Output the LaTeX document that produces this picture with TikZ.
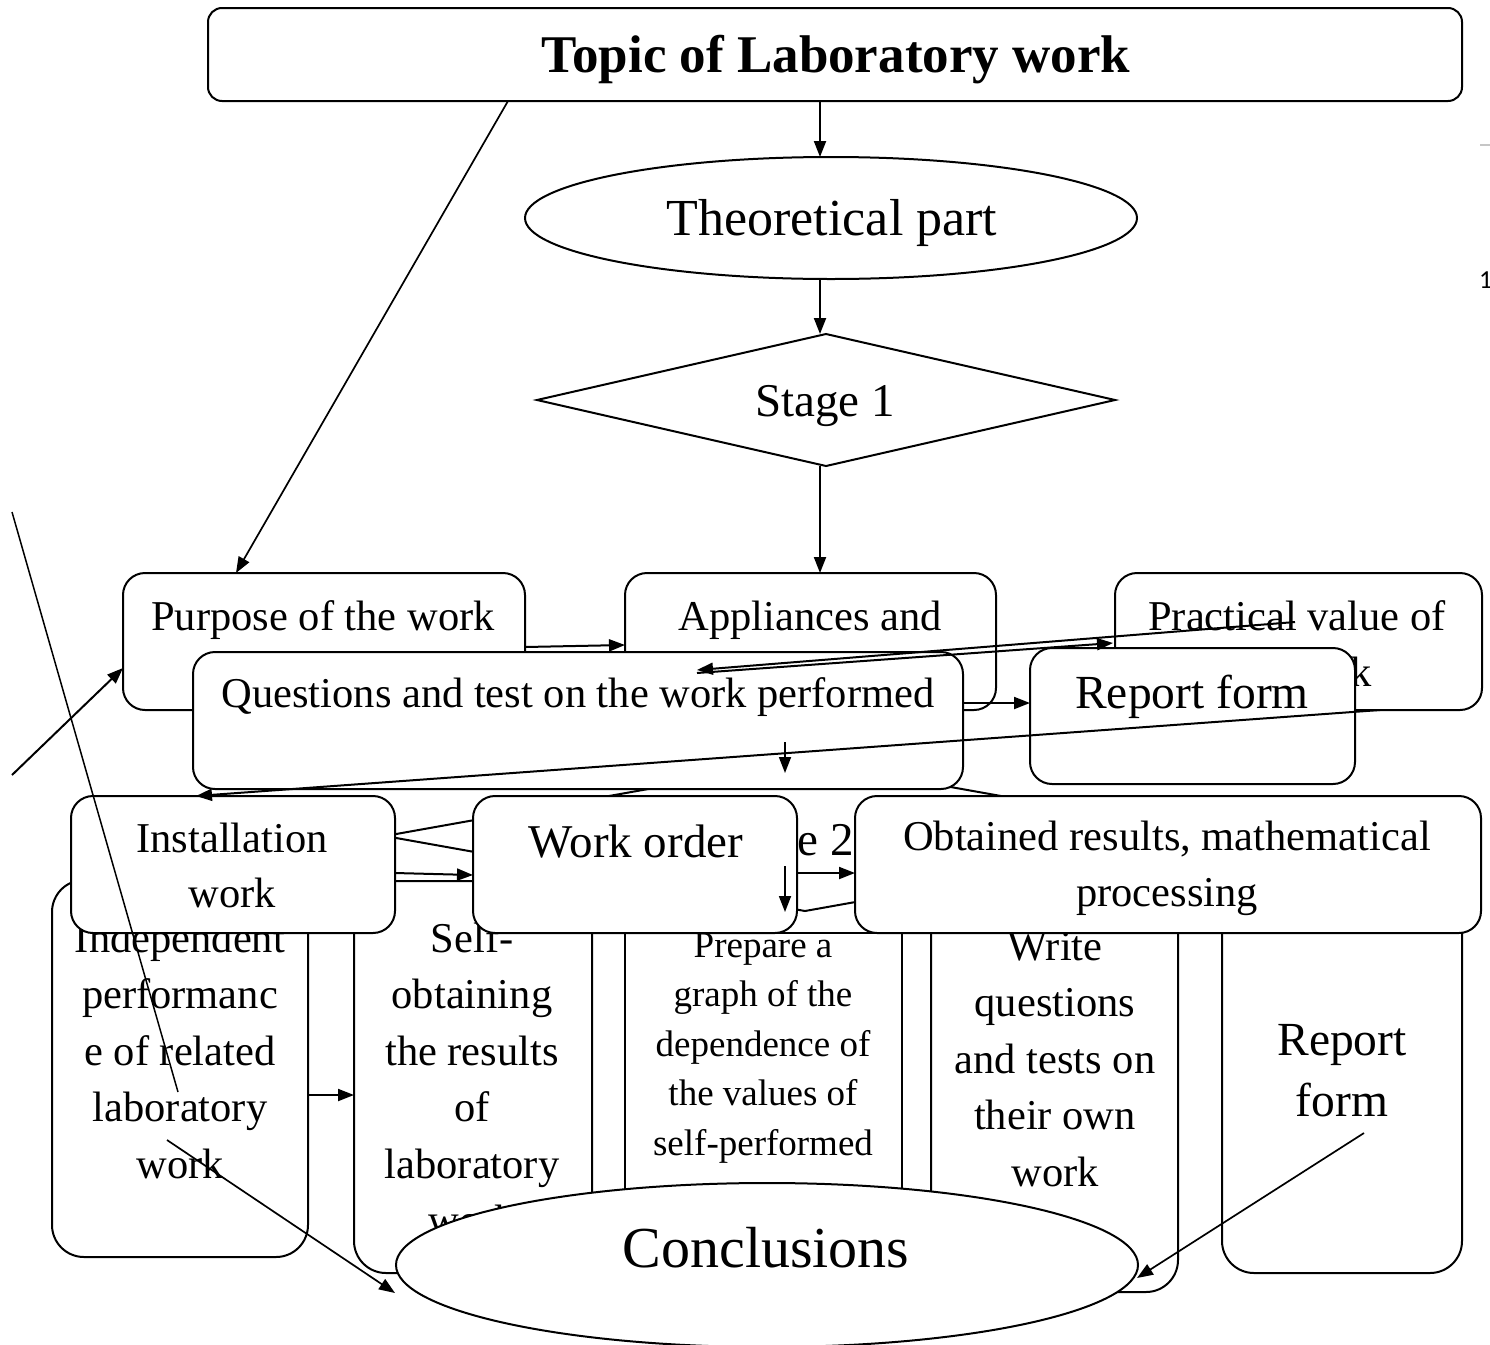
\documentclass[tikz,border=0pt]{standalone}
\usepackage{fontspec}
\setmainfont{Liberation Serif}
\newfontfamily\pgnumfont{Carlito}
\usetikzlibrary{arrows.meta,calc,shapes.geometric}
\begin{document}
\begin{tikzpicture}[x=1pt,y=-1pt,
  box/.style={draw, line width=2pt, rounded corners=22pt, fill=white, inner sep=0pt, outer sep=0pt},
  colbox/.style={box, rounded corners=32pt},
  sqbox/.style={box, sharp corners},
  ell/.style={draw, ellipse, line width=2pt, fill=white, inner sep=0pt, outer sep=0pt},
  dia/.style={draw, diamond, line width=2pt, fill=white, inner sep=0pt, outer sep=0pt},
  tx/.style={inner sep=0pt, anchor=base},
  fn/.style={font=\fontsize{42.5}{56.5}\selectfont},
  fb/.style={font=\fontsize{47.5}{61}\selectfont},
  fs/.style={font=\fontsize{37}{49.5}\selectfont},
  arr/.style={-{Triangle[length=16pt,width=12pt]}, line width=2pt},
  arrthin/.style={-{Triangle[length=16pt,width=12pt]}, line width=1.7pt},
  plain/.style={line width=1.5pt}
]
\useasboundingbox (0,0) rectangle (1490,1344);
\coordinate (ax) at (820,0);
\coordinate (fl1) at (12,775);
\coordinate (fl2a) at (12,512);
\coordinate (fl2b) at (178,1092);

% page artefacts
\draw[gray!45, line width=1.5pt] (1480,145) -- (1490,145);
\node[tx, anchor=base west, font=\pgnumfont\fontsize{26}{30}\selectfont] (pg) at (1479,288) {1};

% top
\node[box, rounded corners=14pt, minimum width=1254pt, minimum height=93pt] (topic) at (835,54.5) {};
\node[tx, font=\bfseries\fontsize{53}{60}\selectfont] (topicT) at (836,72) {Topic of Laboratory work};

\node[ell, minimum width=612pt, minimum height=122pt] (theo) at (831,218) {};
\node[tx, font=\fontsize{52}{60}\selectfont] (theoT) at (832,235) {Theoretical part};

\node[dia, minimum width=578pt, minimum height=132pt] (st1) at (826,400) {};
\node[tx, font=\fontsize{47}{56}\selectfont] (st1T) at (825,416) {Stage 1};

\draw[arr] (topic.south -| ax) -- (theo.north -| ax);
\draw[arr] (theo.south -| ax) -- (st1.north -| ax);

% first row
\node[box, minimum width=402pt, minimum height=137pt] (purpose) at (324,641.5) {};
\node[tx, fn] (purposeT) at (323,630) {Purpose of the work};
\node[box, minimum width=371pt, minimum height=137pt] (appl) at (810.5,641.5) {};
\node[tx, fn] (applT) at (810,630) {Appliances and};
\node[box, minimum width=367pt, minimum height=137pt] (prac) at (1298.5,641.5) {};
\node[tx, fn] (pracT) at (1297,630) {\parbox[t]{330pt}{\centering Practical value of\\the work}};

\draw[arr] (st1.south -| ax) -- (appl.north -| ax);
\draw[arrthin] ($(topic.south west)+(300,0)$) -- ($(purpose.north west)+(113,0)$);
\draw[arr] ($(purpose.north east)+(0,74)$) -- ($(appl.north west)+(0,72)$);
\draw[arr] (fl1) -- ($(purpose.north west)+(0,95)$);

% columns
\node[colbox, minimum width=256pt, minimum height=377pt] (indep) at (180,1068.5) {};
\node[tx, fn] (indepT) at (180,952) {\parbox[t]{300pt}{\centering Independent\\performanc\\e of related\\laboratory\\work}};
\node[colbox, minimum width=238pt, minimum height=392pt] (self) at (473,1077) {};
\node[tx, fn] (selfT) at (472,952) {\parbox[t]{300pt}{\centering Self-\\obtaining\\the results\\of\\laboratory\\work}};
\node[sqbox, minimum width=277pt, minimum height=357pt] (prep) at (763.5,1111.5) {};
\node[tx, fs] (prepT) at (763,957) {\parbox[t]{300pt}{\centering Prepare a\\graph of the\\dependence of\\the values of\\self-performed}};
\node[colbox, minimum width=247pt, minimum height=411pt] (write) at (1054.5,1086.5) {};
\node[tx, fn] (writeT) at (1055,960) {\parbox[t]{300pt}{\centering Write\\questions\\and tests on\\their own\\work}};
\node[colbox, minimum width=240pt, minimum height=392pt] (repcol) at (1342,1077) {};
\node[tx, fb] (repcolT) at (1342,1055) {\parbox[t]{300pt}{\centering Report\\form}};

% stage 2
\node[dia, minimum width=840pt, minimum height=150pt] (st2) at (805,836) {};
\node[tx, font=\fontsize{47}{56}\selectfont] (st2T) at (784,855) {Stage 2};

% second row
\node[box, minimum width=770pt, minimum height=137pt] (quest) at (578,720.5) {};
\node[tx, fn] (questT) at (578,707) {Questions and test on the work performed};
\node[box, minimum width=325pt, minimum height=136pt] (rep1) at (1192.5,716) {};
\node[tx, fb] (rep1T) at (1192,708) {Report form};

% third row
\node[box, minimum width=324pt, minimum height=137pt] (inst) at (233,864.5) {};
\node[tx, fn] (instT) at (232,852) {\parbox[t]{300pt}{\centering Installation\\[-1.5pt]work}};
\node[box, minimum width=324pt, minimum height=137pt] (work) at (635,864.5) {};
\node[tx, font=\fontsize{47}{56}\selectfont] (workT) at (636,857) {Work order};
\node[box, minimum width=626pt, minimum height=137pt] (obt) at (1168,864.5) {};
\node[tx, fn] (obtT) at (1167,850) {\parbox[t]{600pt}{\centering Obtained results, mathematical\\processing}};

% conclusions
\node[ell, minimum width=742pt, minimum height=164pt] (concl) at (767,1265) {};
\node[tx, font=\fontsize{58}{66}\selectfont] (conclT) at (766,1267) {Conclusions};

% connectors on top
\draw[arr] ($(prac.north west)+(180,49)$) -- ($(quest.north west)+(504,18)$);
\draw[arr] ($(quest.north west)+(504,21)$) -- ($(prac.north west)+(-2,70)$);
\draw[arr] ($(quest.north east)+(0,51)$) -- ($(rep1.north west)+(0,55)$);
\draw[arr] ($(prac.south west)+(265,0)$) -- ($(inst.north west)+(125,0)$);
\draw[arrthin] ($(quest.north west)+(592,90)$) -- ($(quest.north west)+(592,121)$);
\draw[arr] ($(inst.north east)+(0,77)$) -- ($(work.north west)+(0,79)$);
\draw[arr] ($(work.north east)+(0,77)$) -- ($(obt.north west)+(0,77)$);
\draw[arrthin] ($(work.north west)+(312,70)$) -- ($(work.north west)+(312,116)$);
\draw[arr] ($(indep.north east)+(0,215)$) -- ($(self.north west)+(0,214)$);
\draw[arrthin] ($(indep.north west)+(115,260)$) -- ($(concl.west)+(-1,28)$);
\draw[arrthin] ($(repcol.north west)+(142,252)$) -- ($(concl.east)+(-1,13)$);
\draw[plain] (fl2a) -- (fl2b);
\end{tikzpicture}
\end{document}
